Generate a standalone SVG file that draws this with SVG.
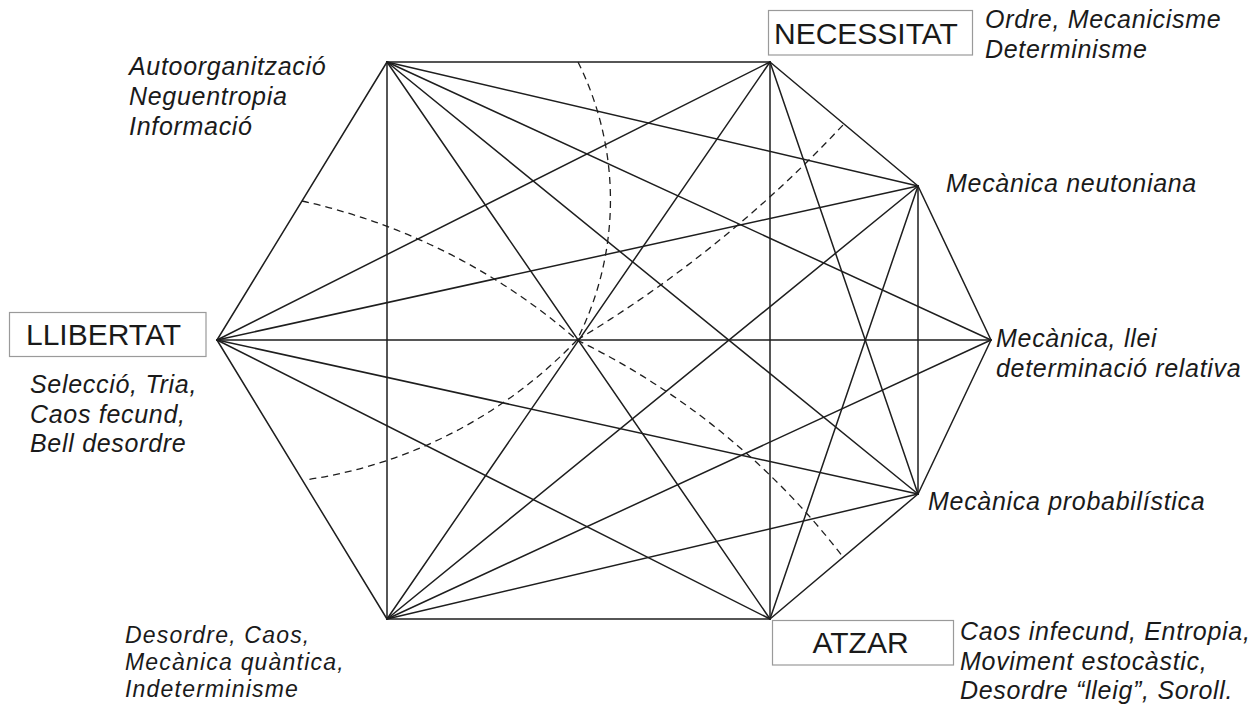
<svg xmlns="http://www.w3.org/2000/svg" width="1253" height="706" viewBox="0 0 1253 706">
<style>
.edge{stroke:#1e1e1e;stroke-width:1.5;fill:none;stroke-linecap:round}
.dash{stroke:#1e1e1e;stroke-width:1.3;fill:none;stroke-dasharray:7 5}
.box{fill:#fff;stroke:#9a9a9a;stroke-width:1.2}
.title{font-family:"Liberation Sans",Arial,sans-serif;font-size:30px;fill:#1a1a1a}
.desc{font-family:"Liberation Sans",Arial,sans-serif;font-size:25px;font-style:italic;letter-spacing:0.7px;fill:#1a1a1a}
.tight{font-size:23px;letter-spacing:1.2px}
</style>
<rect width="1253" height="706" fill="#fff"/>
<g id="connectors">
<line class="edge" x1="387" y1="62" x2="770" y2="62"/>
<line class="edge" x1="387" y1="62" x2="918" y2="186"/>
<line class="edge" x1="387" y1="62" x2="991" y2="340"/>
<line class="edge" x1="387" y1="62" x2="918" y2="494"/>
<line class="edge" x1="387" y1="62" x2="770" y2="619"/>
<line class="edge" x1="387" y1="62" x2="387" y2="619"/>
<line class="edge" x1="387" y1="62" x2="217" y2="340"/>
<line class="edge" x1="770" y1="62" x2="918" y2="186"/>
<line class="edge" x1="770" y1="62" x2="918" y2="494"/>
<line class="edge" x1="770" y1="62" x2="770" y2="619"/>
<line class="edge" x1="770" y1="62" x2="387" y2="619"/>
<line class="edge" x1="770" y1="62" x2="217" y2="340"/>
<line class="edge" x1="918" y1="186" x2="991" y2="340"/>
<line class="edge" x1="918" y1="186" x2="918" y2="494"/>
<line class="edge" x1="918" y1="186" x2="770" y2="619"/>
<line class="edge" x1="918" y1="186" x2="387" y2="619"/>
<line class="edge" x1="918" y1="186" x2="217" y2="340"/>
<line class="edge" x1="991" y1="340" x2="918" y2="494"/>
<line class="edge" x1="991" y1="340" x2="387" y2="619"/>
<line class="edge" x1="991" y1="340" x2="217" y2="340"/>
<line class="edge" x1="918" y1="494" x2="770" y2="619"/>
<line class="edge" x1="918" y1="494" x2="387" y2="619"/>
<line class="edge" x1="918" y1="494" x2="217" y2="340"/>
<line class="edge" x1="770" y1="619" x2="387" y2="619"/>
<line class="edge" x1="770" y1="619" x2="217" y2="340"/>
<line class="edge" x1="387" y1="619" x2="217" y2="340"/>
<path class="dash" d="M302,201 A623.5,623.5 0 0 1 577,340"/>
<path class="dash" d="M577,340 A750,750 0 0 1 843,557"/>
<path class="dash" d="M578,62 A309.7,309.7 0 0 1 577,340"/>
<path class="dash" d="M577,340 A470,470 0 0 1 305,480"/>
<path class="dash" d="M577,340 A1233,1233 0 0 0 843,125"/>
</g>
<g id="necessitat">
<rect class="box" x="768.5" y="10.5" width="204" height="44.5"/>
<text class="title" x="774" y="43.5">NECESSITAT</text>
</g>
<g id="necessitat-desc">
<text class="desc" x="985" y="28">Ordre, Mecanicisme</text>
<text class="desc" x="985" y="58">Determinisme</text>
</g>
<g id="autoorganitzacio">
<text class="desc" x="129" y="75">Autoorganització</text>
<text class="desc" x="129" y="105">Neguentropia</text>
<text class="desc" x="129" y="135">Informació</text>
</g>
<g id="mecanica-neutoniana">
<text class="desc" x="946" y="192">Mecànica neutoniana</text>
</g>
<g id="llibertat">
<rect class="box" x="9.5" y="312.5" width="196.5" height="44"/>
<text class="title" x="26" y="345">LLIBERTAT</text>
</g>
<g id="llibertat-desc">
<text class="desc" x="30" y="393">Selecció, Tria,</text>
<text class="desc" x="30" y="423">Caos fecund,</text>
<text class="desc" x="30" y="452">Bell desordre</text>
</g>
<g id="mecanica-llei">
<text class="desc" x="996" y="347">Mecànica, llei</text>
<text class="desc" x="996" y="377">determinació relativa</text>
</g>
<g id="mecanica-probabilistica">
<text class="desc" x="928" y="510">Mecànica probabilística</text>
</g>
<g id="desordre">
<text class="desc tight" x="125" y="643">Desordre, Caos,</text>
<text class="desc tight" x="125" y="670">Mecànica quàntica,</text>
<text class="desc tight" x="125" y="697">Indeterminisme</text>
</g>
<g id="atzar">
<rect class="box" x="772.5" y="620.5" width="181" height="44.5"/>
<text class="title" x="812.5" y="653">ATZAR</text>
</g>
<g id="atzar-desc">
<text class="desc" x="960" y="640">Caos infecund, Entropia,</text>
<text class="desc" x="960" y="670">Moviment estocàstic,</text>
<text class="desc" x="960" y="699">Desordre “lleig”, Soroll.</text>
</g>
</svg>
